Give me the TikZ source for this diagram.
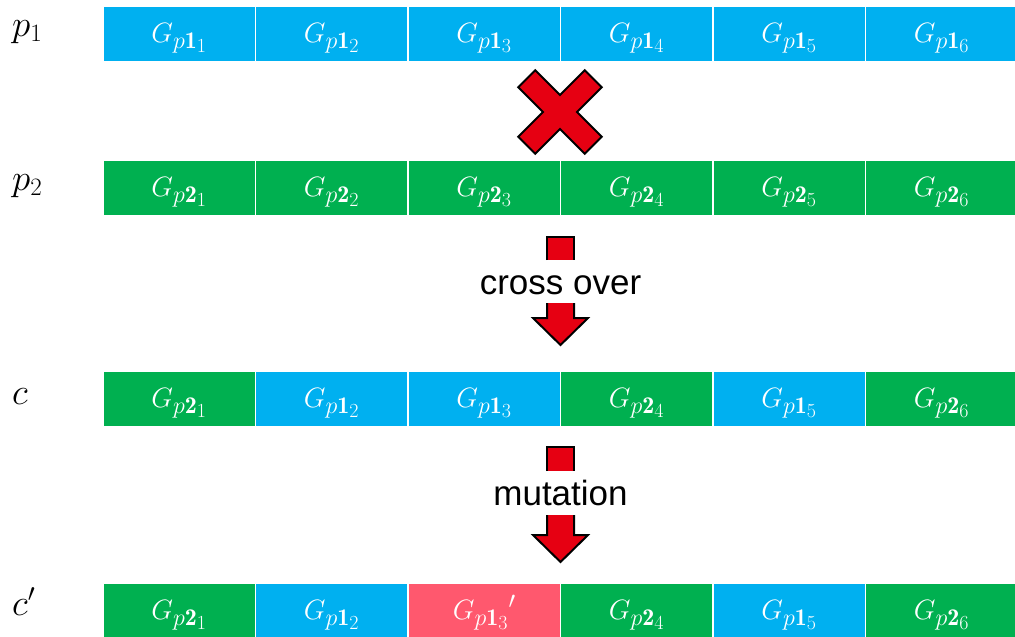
\RequirePackage{fix-cm}
\documentclass[tikz,border=0pt]{standalone}
\usepackage{fontspec}
\newfontfamily\arialfont{Liberation Sans}
\DeclareMathSizes{28}{28}{24}{20}
\DeclareMathSizes{37}{37}{25}{18}
\definecolor{cblue}{RGB}{0,176,240}
\definecolor{cgreen}{RGB}{0,176,80}
\definecolor{cpink}{RGB}{255,88,110}
\definecolor{cred}{RGB}{230,0,18}
\tikzset{
  cell/.style={rectangle, draw=white, line width=1.6pt, minimum width=152.5pt, minimum height=56pt, inner sep=0pt, text=white},
  bcell/.style={cell, fill=cblue},
  gcell/.style={cell, fill=cgreen},
  rcell/.style={cell, fill=cpink},
  celltxt/.style={anchor=base, inner sep=0pt, text=white, font=\fontsize{28}{32}\selectfont},
  lbl/.style={anchor=base west, inner sep=0pt, font=\fontsize{37}{42}\selectfont},
  optxt/.style={anchor=base, inner sep=0pt, font=\arialfont\fontsize{35}{40}\selectfont},
  redshape/.style={fill=cred},
  outline/.style={draw=black, line width=2pt, line join=miter}
}
\begin{document}
\begin{tikzpicture}[x=1pt,y=-1pt]
\useasboundingbox (0,0) rectangle (1015,637);
% row 1 (p1)
\foreach \i/\s in {1/bcell,2/bcell,3/bcell,4/bcell,5/bcell,6/bcell}{
  \node[\s] (a\i) at ({103+152.5*(\i-0.5)},34) {};
  \node[celltxt] (ta\i) at ([yshift=-8pt]a\i.center) {$G_{p\mathbf{1}_{\i}}$};
}
% row 2 (p2)
\foreach \i/\s in {1/gcell,2/gcell,3/gcell,4/gcell,5/gcell,6/gcell}{
  \node[\s] (b\i) at ({103+152.5*(\i-0.5)},188) {};
  \node[celltxt] (tb\i) at ([yshift=-8pt]b\i.center) {$G_{p\mathbf{2}_{\i}}$};
}
% row 3 (c)
\foreach \i/\s/\p in {1/gcell/2,2/bcell/1,3/bcell/1,4/gcell/2,5/bcell/1,6/gcell/2}{
  \node[\s] (c\i) at ({103+152.5*(\i-0.5)},399) {};
  \node[celltxt] (tc\i) at ([yshift=-8pt]c\i.center) {$G_{p\mathbf{\p}_{\i}}$};
}
% row 4 (c')
\foreach \i/\s/\p in {1/gcell/2,2/bcell/1,4/gcell/2,5/bcell/1,6/gcell/2}{
  \node[\s] (d\i) at ({103+152.5*(\i-0.5)},611) {};
  \node[celltxt] (td\i) at ([yshift=-8pt]d\i.center) {$G_{p\mathbf{\p}_{\i}}$};
}
\node[rcell] (d3) at ({103+152.5*2.5},611) {};
\node[celltxt] (td3) at ([yshift=-8pt]d3.center) {$G_{p\mathbf{1}_{3}}{}'$};
% labels
\node[lbl] (lp1) at (12,36) {$p_1$};
\node[lbl] (lp2) at (12,190) {$p_2$};
\node[lbl] (lc) at (12,404) {$c$};
\node[lbl] (lcc) at (12,615) {$c'$};
% red X
\begin{scope}[shift={(560,112)}, rotate=45]
  \filldraw[redshape, outline] (12,47) -- (12,12) -- (47,12) -- (47,-12) -- (12,-12) -- (12,-47)
    -- (-12,-47) -- (-12,-12) -- (-47,-12) -- (-47,12) -- (-12,12) -- (-12,47) -- cycle;
\end{scope}
% arrow 1: cross over
\fill[redshape] (547,237) rectangle (574,260);
\draw[outline] (547,260) -- (547,237) -- (574,237) -- (574,260);
\node[optxt] (t1) at (560.5,294) {cross over};
\fill[redshape] (547,303) -- (547,318) -- (533,318) -- (560.5,345) -- (588,318) -- (574,318) -- (574,303) -- cycle;
\draw[outline] (547,303) -- (547,318) -- (533,318) -- (560.5,345) -- (588,318) -- (574,318) -- (574,303);
% arrow 2: mutation
\fill[redshape] (547,447) rectangle (574,471);
\draw[outline] (547,471) -- (547,447) -- (574,447) -- (574,471);
\node[optxt] (t2) at (560.5,505) {mutation};
\fill[redshape] (547,515) -- (547,535) -- (533,535) -- (560.5,562) -- (588,535) -- (574,535) -- (574,515) -- cycle;
\draw[outline] (547,515) -- (547,535) -- (533,535) -- (560.5,562) -- (588,535) -- (574,535) -- (574,515);
\end{tikzpicture}
\end{document}
